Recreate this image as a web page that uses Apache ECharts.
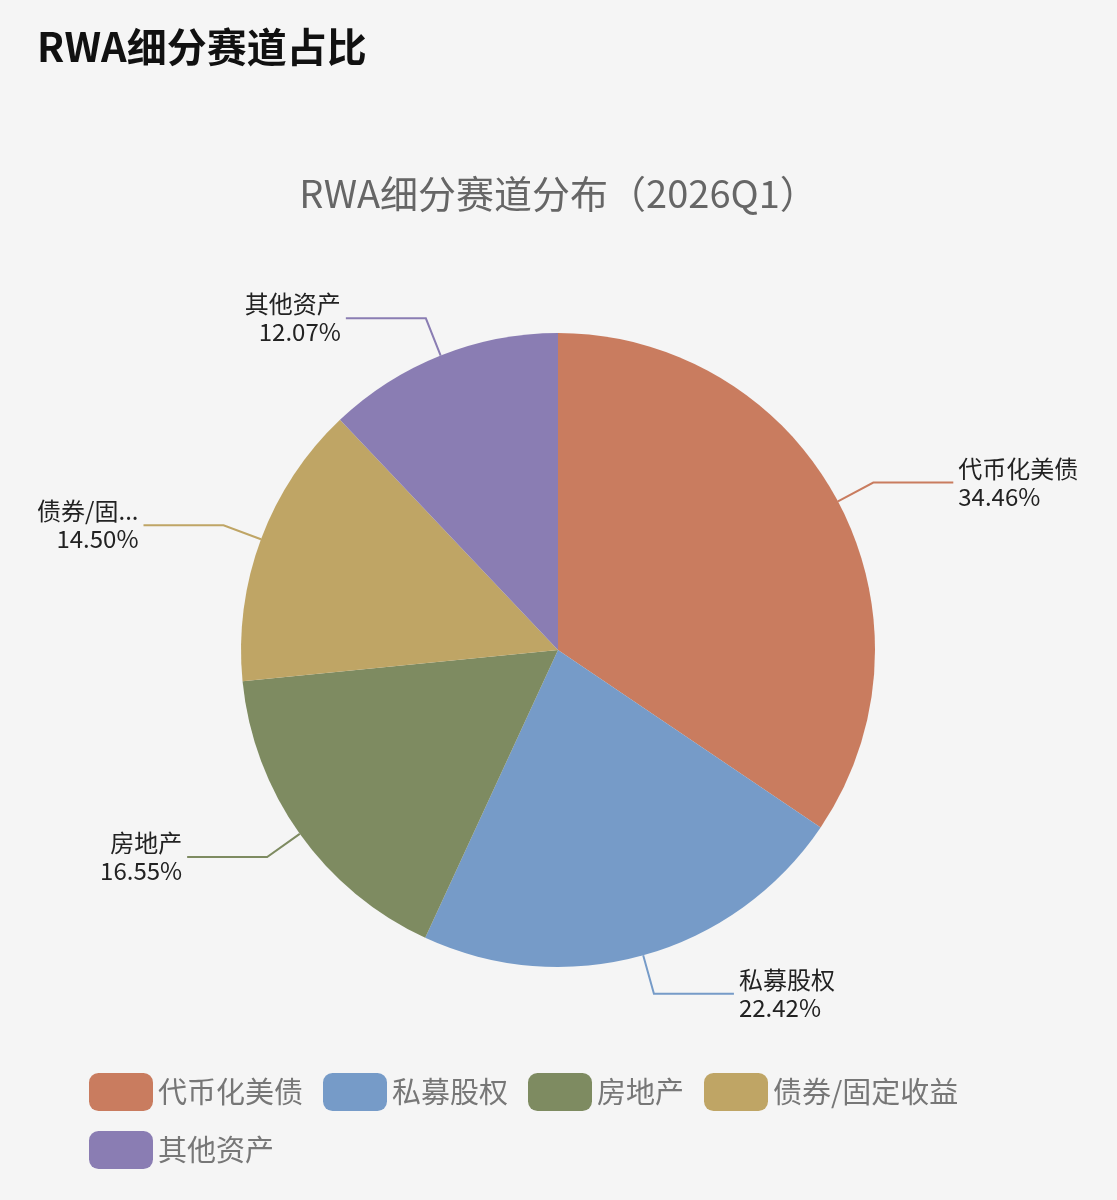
<!DOCTYPE html>
<html><head><meta charset="utf-8">
<script src="https://cdn.jsdelivr.net/npm/echarts@6/dist/echarts.min.js"></script>
<style>html,body{margin:0;background:#f5f5f5}#c{width:1117px;height:1200px}</style>
</head><body><div id="c"></div>
<script>
var categories = ["代币化美债", "私募股权", "房地产", "债券/固定收益", "其他资产"];
var values = [34.46, 22.42, 16.55, 14.50, 12.07];
var colors = ["#c97c5f", "#769bc8", "#7e8b61", "#bfa565", "#8a7db3"];

var chart = echarts.init(document.getElementById("c"));
chart.setOption({
  backgroundColor: "#f5f5f5",
  color: colors,
  textStyle: {fontFamily: "Noto Sans CJK SC"},
  title: [
    {text: "RWA细分赛道占比", left: 32, top: 22,
     textStyle: {fontSize: 40, fontWeight: "bold", color: "#111"}},
    {text: "RWA细分赛道分布（2026Q1）", left: "center", top: 170,
     textStyle: {fontSize: 38, fontWeight: "normal", color: "#666"}}
  ],
  legend: {
    data: categories, left: 84, right: 60, top: 1068,
    itemWidth: 64, itemHeight: 38, itemGap: 20,
    itemStyle: {borderRadius: 10},
    textStyle: {fontSize: 29, color: "#777"}
  },
  series: [{
    type: "pie",
    center: [558, 650],
    radius: 317,
    data: categories.map(function (n, i) { return {name: n, value: values[i]}; }),
    label: {
      formatter: function (p) { return p.name + "\n" + p.value.toFixed(2) + "%"; },
      fontSize: 24, color: "#222", lineHeight: 28, overflow: "truncate"
    },
    labelLine: {length: 40, length2: 80, lineStyle: {width: 2}}
  }]
});
</script></body></html>
